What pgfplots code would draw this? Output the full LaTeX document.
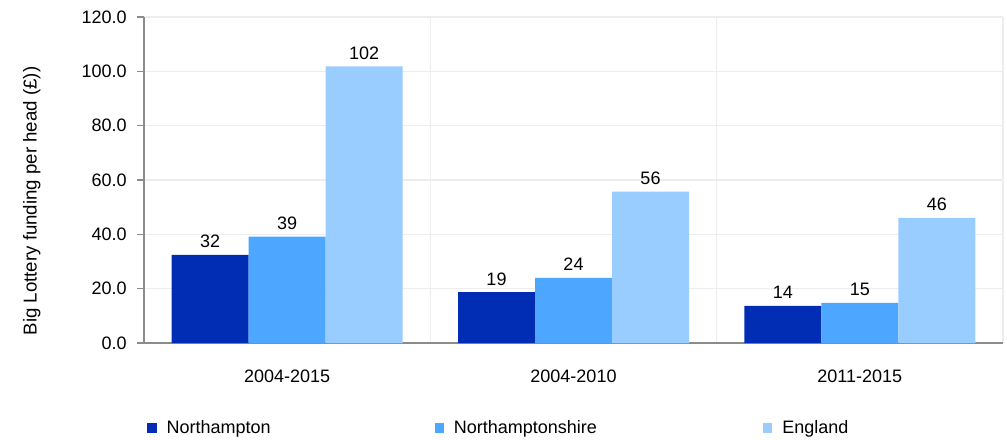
\documentclass[border=0pt]{standalone}
\usepackage{fontspec}
\setmainfont{Liberation Sans}
\usepackage{pgfplots}
\pgfplotsset{compat=1.18}
\definecolor{cDark}{HTML}{002DB3}
\definecolor{cMid}{HTML}{4DA6FF}
\definecolor{cLight}{HTML}{99CCFF}
\definecolor{axgray}{HTML}{8C8C8C}
\definecolor{gridgray}{HTML}{EDEDED}

\begin{document}
\fontsize{13.5}{16}\selectfont
\begin{tikzpicture}
\begin{axis}[
  scale only axis, width=644.25pt, height=244.5pt,
  xmin=-0.5, xmax=2.5, ymin=0, ymax=120,
  axis x line=bottom, axis y line=left,
  axis line style={-, axgray, line width=1.2pt},
  ybar, bar width=57.75pt,
  xtick={0,1,2},
  xticklabels={2004-2015,2004-2010,2011-2015},
  minor xtick={-0.5,0.5,1.5,2.5},
  xminorgrids, ymajorgrids,
  grid style={gridgray, line width=1pt},
  minor grid style={gridgray, line width=1pt},
  xtick style={draw=none},
  minor x tick style={axgray, line width=1pt},
  ytick={0,20,...,120},
  ytick style={axgray, line width=1pt},
  tick align=outside,
  major tick length=5pt, minor tick length=5pt,
  /pgf/number format/fixed,
  /pgf/number format/fixed zerofill,
  /pgf/number format/precision=1,
  /pgf/number format/assume math mode=true,
  yticklabel style={inner sep=0pt, xshift=-7.75pt},
  xticklabel style={inner sep=0pt, yshift=-15pt},
  ylabel={Big Lottery funding per head (£))},
  ylabel style={at={(axis description cs:-0.1305,0.4356)}, anchor=center, font=\fontsize{14}{16}\selectfont},
  nodes near coords,
  point meta=explicit symbolic,
  nodes near coords style={anchor=south, inner sep=0pt, yshift=5pt, black},
  legend columns=3,
  legend style={at={(0.0035,-0.2607)}, anchor=west, draw=none, fill=none,
    inner sep=0pt, column sep=0pt, nodes={inner sep=0pt}},
  legend image code/.code={\fill[#1] (0pt,-3.5pt) rectangle (7pt,3.5pt); \path (14.5pt,0pt);},
]
\addplot[fill=cDark, draw=none, bar shift=-57.75pt]
  coordinates {(0,32.4)[32] (1,18.7)[19] (2,13.7)[14]};
\addlegendentry{\makebox[201pt][l]{Northampton}}
\addplot[fill=cMid, draw=none, bar shift=0pt]
  coordinates {(0,39.2)[39] (1,24.0)[24] (2,14.8)[15]};
\addlegendentry{\makebox[231.75pt][l]{Northamptonshire}}
\addplot[fill=cLight, draw=none, bar shift=57.75pt]
  coordinates {(0,101.8)[102] (1,55.7)[56] (2,46.1)[46]};
\addlegendentry{England}
\coordinate (bbA) at (axis description cs:-0.16764,1.05215);
\coordinate (bbB) at (axis description cs:1.00466,-0.29448);
\end{axis}
\path (bbA) rectangle (bbB);
\end{tikzpicture}
\end{document}
